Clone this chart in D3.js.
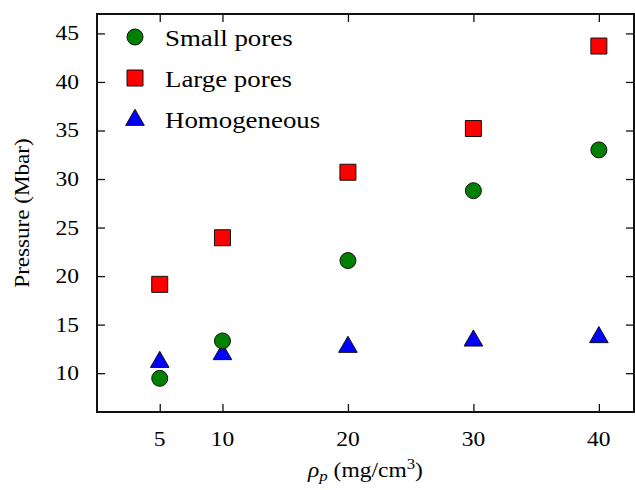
<!DOCTYPE html>
<html>
<head>
<meta charset="utf-8">
<script src="https://cdn.jsdelivr.net/npm/d3@7"></script>
<style>
  body { margin: 0; background: #fff; }
  text { font-family: "Liberation Serif", "Times New Roman", serif; fill: #000; }
</style>
</head>
<body>
<div id="chart"></div>
<script>
// densities (mg/cm3)
const densities = [5, 10, 20, 30, 40];
const smallPores = [9.47, 13.32, 21.6, 28.8, 33.0];
const largePores = [19.15, 23.95, 30.7, 35.2, 43.7];
const homogeneous = [11.25, 12.05, 12.8, 13.45, 13.8];

const xTicks = [5, 10, 20, 30, 40];
const yTicks = [10, 15, 20, 25, 30, 35, 40, 45];

const seriesNames = ["Small pores", "Large pores", "Homogeneous"];

const width = 635, height = 490;
const margin = { top: 14, right: 1, bottom: 78, left: 97 };
const stretch = 1.12; // the source text is a bit wider than plain Times

const svg = d3.select("#chart").append("svg")
  .attr("width", width)
  .attr("height", height);

const x = d3.scaleLinear().domain([0, 42.8]).range([margin.left, width - margin.right]);
const y = d3.scaleLinear().domain([6, 47]).range([height - margin.bottom, margin.top]);

const tickLen = 8;

// inward ticks on all four sides
const axes = [
  { gen: d3.axisBottom(x).tickValues(xTicks), t: `translate(0,${y.range()[0]})` },
  { gen: d3.axisTop(x).tickValues(xTicks), t: `translate(0,${y.range()[1]})` },
  { gen: d3.axisLeft(y).tickValues(yTicks), t: `translate(${x.range()[0]},0)` },
  { gen: d3.axisRight(y).tickValues(yTicks), t: `translate(${x.range()[1]},0)` }
];
axes.forEach(a => {
  const g = svg.append("g").attr("transform", a.t)
    .call(a.gen.tickSizeInner(-tickLen).tickSizeOuter(0).tickPadding(0));
  g.select(".domain").remove();
  g.selectAll(".tick line").attr("stroke", "#111").attr("stroke-width", 1.3);
  g.selectAll(".tick text").remove();
});

// tick labels (drawn by hand so they can be stretched a little)
svg.append("g").selectAll("text")
  .data(xTicks)
  .join("text")
  .attr("transform", d => `translate(${x(d)},446) scale(${stretch},1)`)
  .attr("text-anchor", "middle")
  .style("font-size", "21px")
  .text(d => d);

svg.append("g").selectAll("text")
  .data(yTicks)
  .join("text")
  .attr("transform", d => `translate(79,${y(d) + 7}) scale(${stretch},1)`)
  .attr("text-anchor", "end")
  .style("font-size", "21px")
  .text(d => d);

// frame
svg.append("rect")
  .attr("x", x.range()[0])
  .attr("y", y.range()[1])
  .attr("width", x.range()[1] - x.range()[0])
  .attr("height", y.range()[0] - y.range()[1])
  .attr("fill", "none")
  .attr("stroke", "#111")
  .attr("stroke-width", 2);

// markers
const circle = d3.symbol().type(d3.symbolCircle).size(Math.PI * 8 * 8);
const square = d3.symbol().type(d3.symbolSquare).size(16 * 16);
const triangle = d3.symbol().type(d3.symbolTriangle).size(150);

function drawSeries(vals, sym, color, dy) {
  svg.append("g").selectAll("path")
    .data(vals)
    .join("path")
    .attr("transform", (d, i) => `translate(${x(densities[i])},${y(d) + dy})`)
    .attr("d", sym)
    .attr("fill", color)
    .attr("stroke", "#111")
    .attr("stroke-width", 1);
}
drawSeries(homogeneous, triangle, "#0000ff", 1);
drawSeries(smallPores, circle, "#008000", 0);
drawSeries(largePores, square, "#ff0000", 0);

// legend
const legendSyms = [circle, square, triangle];
const legendCols = ["#008000", "#ff0000", "#0000ff"];
const legend = svg.append("g");
seriesNames.forEach((name, i) => {
  const ly = 37 + i * 41;
  legend.append("path")
    .attr("transform", `translate(135,${ly + (i === 2 ? 1 : 0)})`)
    .attr("d", legendSyms[i])
    .attr("fill", legendCols[i])
    .attr("stroke", "#111")
    .attr("stroke-width", 1);
  legend.append("text")
    .attr("transform", `translate(165,${ly + 9}) scale(${stretch},1)`)
    .style("font-size", "24px")
    .text(name);
});

// axis labels
svg.append("text")
  .attr("transform", `translate(29,${(y.range()[0] + y.range()[1]) / 2}) rotate(-90) scale(1.05,1)`)
  .attr("text-anchor", "middle")
  .style("font-size", "22px")
  .text("Pressure (Mbar)");

const xl = svg.append("text")
  .attr("transform", `translate(${(x.range()[0] + x.range()[1]) / 2},477) scale(${stretch},1)`)
  .attr("text-anchor", "middle")
  .style("font-size", "21px");
xl.append("tspan").style("font-style", "italic").text("ρ");
xl.append("tspan").style("font-style", "italic").style("font-size", "15px").attr("dy", 4).text("p");
xl.append("tspan").attr("dy", -4).text(" (mg/cm");
xl.append("tspan").style("font-size", "15px").attr("dy", -8).text("3");
xl.append("tspan").attr("dy", 8).text(")");
</script>
</body>
</html>
